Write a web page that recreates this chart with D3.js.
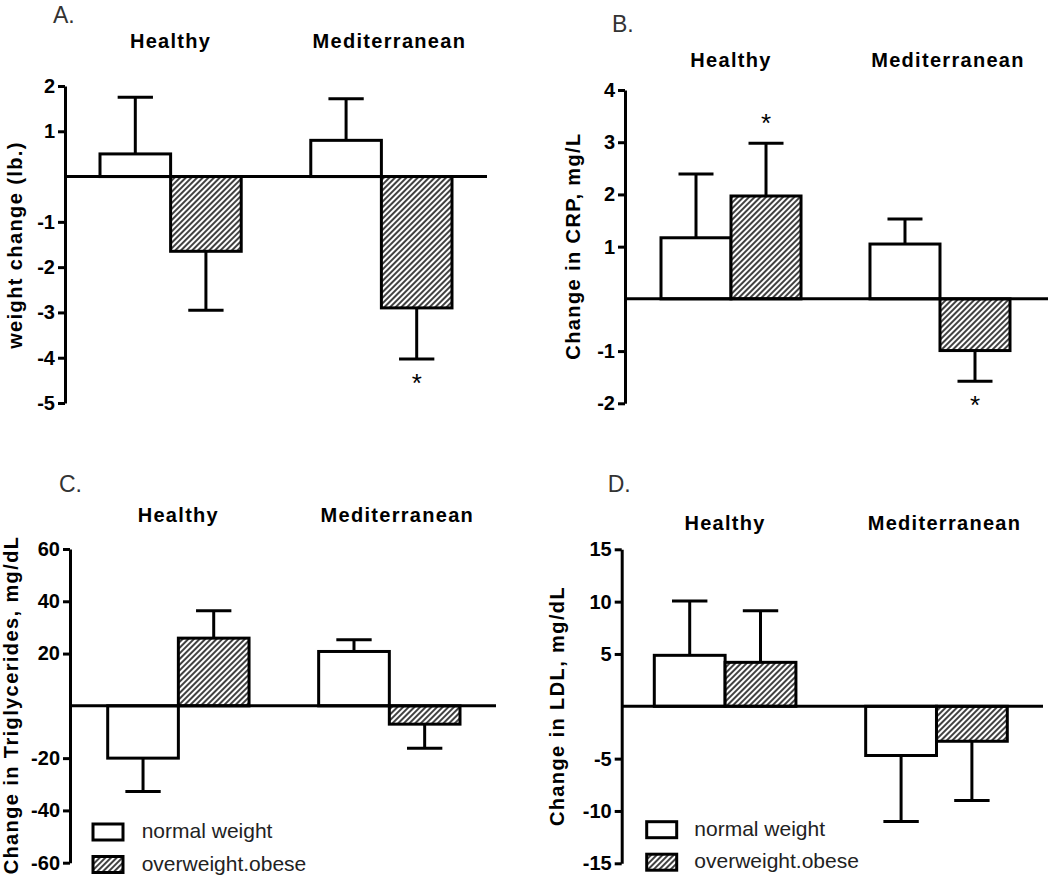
<!DOCTYPE html>
<html>
<head>
<meta charset="utf-8">
<script src="https://cdn.jsdelivr.net/npm/d3@7"></script>
<style>
  html, body { margin: 0; padding: 0; background: #fff; }
  svg { display: block; font-family: "Liberation Sans", Arial, sans-serif; }
</style>
</head>
<body>
<svg id="chart" width="1050" height="877"></svg>
<script>
// ---------- data ----------
const groups = ["Healthy", "Mediterranean"];
const seriesNames = ["normal weight", "overweight.obese"];

// Panel A: weight change (lb.)
const weightNormal = [0.5, 0.8];
const weightNormalErr = [1.25, 0.92];
const weightOver = [-1.65, -2.9];
const weightOverErr = [1.3, 1.13];
const weightTicks = [2, 1, -1, -2, -3, -4, -5];

// Panel B: Change in CRP, mg/L
const crpNormal = [1.17, 1.05];
const crpNormalErr = [1.22, 0.48];
const crpOver = [1.97, -0.99];
const crpOverErr = [1.01, 0.59];
const crpTicks = [4, 3, 2, 1, -1, -2];

// Panel C: Change in Triglycerides, mg/dL
const tgNormal = [-20, 20.8];
const tgNormalErr = [12.8, 4.5];
const tgOver = [25.9, -7.0];
const tgOverErr = [10.5, 9.2];
const tgTicks = [60, 40, 20, -20, -40, -60];

// Panel D: Change in LDL, mg/dL
const ldlNormal = [4.87, -4.7];
const ldlNormalErr = [5.2, 6.3];
const ldlOver = [4.2, -3.34];
const ldlOverErr = [4.94, 5.66];
const ldlTicks = [15, 10, 5, -5, -10, -15];

// significance markers: [group, series]
const sigA = [["Mediterranean", "overweight.obese"]];
const sigB = [["Healthy", "overweight.obese"], ["Mediterranean", "overweight.obese"]];

// ---------- layout ----------
const svg = d3.select("#chart");
const defs = svg.append("defs");
const pat = defs.append("pattern")
  .attr("id", "hatch").attr("patternUnits", "userSpaceOnUse")
  .attr("width", 4).attr("height", 4)
  .attr("patternTransform", "rotate(45)");
pat.append("rect").attr("width", 4).attr("height", 4).attr("fill", "#fff");
pat.append("line").attr("x1", 1).attr("y1", 0).attr("x2", 1).attr("y2", 4)
  .attr("stroke", "#111").attr("stroke-width", 1.6);

const panels = [
  { letter: "A.", label: "weight change (lb.)", normal: weightNormal, normalErr: weightNormalErr,
    over: weightOver, overErr: weightOverErr, ticks: weightTicks, sig: sigA,
    axisX: 65, yTop: 86, yBot: 403, barL: 100, barR: 452, zeroEnd: 487,
    groupY: 48, letterX: 53, letterY: 23, labelX: 22, labelY: 245, legend: null },
  { letter: "B.", label: "Change in CRP, mg/L", normal: crpNormal, normalErr: crpNormalErr,
    over: crpOver, overErr: crpOverErr, ticks: crpTicks, sig: sigB,
    axisX: 625, yTop: 90, yBot: 403.3, barL: 661, barR: 1010, zeroEnd: 1048,
    groupY: 67, letterX: 612, letterY: 32, labelX: 580, labelY: 246, legend: null },
  { letter: "C.", label: "Change in Triglycerides, mg/dL", normal: tgNormal, normalErr: tgNormalErr,
    over: tgOver, overErr: tgOverErr, ticks: tgTicks, sig: [],
    axisX: 70, yTop: 549, yBot: 862.7, barL: 107.7, barR: 460, zeroEnd: 496,
    groupY: 521.7, letterX: 59, letterY: 491.7, labelX: 18, labelY: 705,
    legend: { x: 93, y: 824, textX: 141.7 } },
  { letter: "D.", label: "Change in LDL, mg/dL", normal: ldlNormal, normalErr: ldlNormalErr,
    over: ldlOver, overErr: ldlOverErr, ticks: ldlTicks, sig: [],
    axisX: 621.7, yTop: 549.3, yBot: 863.3, barL: 654.3, barR: 1007.3, zeroEnd: 1043,
    groupY: 530, letterX: 607.7, letterY: 491.7, labelX: 564, labelY: 706,
    legend: { x: 646.7, y: 821.7, textX: 694.3 } }
];

const groupLabelOffset = [0, 8];

panels.forEach(p => {
  const g = svg.append("g");
  const ext = d3.extent(p.ticks);
  const y = d3.scaleLinear().domain([ext[0], ext[1]]).range([p.yBot, p.yTop]);
  const x0 = d3.scaleBand().domain(groups).range([p.barL, p.barR]).paddingInner(0.33).paddingOuter(0);
  const x1 = d3.scaleBand().domain(seriesNames).range([0, x0.bandwidth()]).padding(0);

  const rows = [];
  groups.forEach((grp, i) => {
    rows.push({ group: grp, series: seriesNames[0], v: p.normal[i], e: p.normalErr[i] });
    rows.push({ group: grp, series: seriesNames[1], v: p.over[i], e: p.overErr[i] });
  });

  // bars
  g.selectAll("rect.bar").data(rows).enter().append("rect")
    .attr("class", "bar")
    .attr("x", d => x0(d.group) + x1(d.series))
    .attr("width", x1.bandwidth())
    .attr("y", d => y(Math.max(0, d.v)))
    .attr("height", d => Math.abs(y(d.v) - y(0)))
    .attr("fill", d => d.series === seriesNames[0] ? "#fff" : "url(#hatch)")
    .attr("stroke", "#000").attr("stroke-width", 3);

  // error bars (one-sided, away from zero)
  rows.forEach(d => {
    const cx = x0(d.group) + x1(d.series) + x1.bandwidth() / 2;
    const end = d.v >= 0 ? d.v + d.e : d.v - d.e;
    const capW = x1.bandwidth() / 2;
    g.append("line").attr("x1", cx).attr("x2", cx).attr("y1", y(d.v)).attr("y2", y(end))
      .attr("stroke", "#000").attr("stroke-width", 3);
    g.append("line").attr("x1", cx - capW / 2).attr("x2", cx + capW / 2)
      .attr("y1", y(end)).attr("y2", y(end))
      .attr("stroke", "#000").attr("stroke-width", 3);
  });

  // zero line
  g.append("line").attr("x1", p.axisX).attr("x2", p.zeroEnd).attr("y1", y(0)).attr("y2", y(0))
    .attr("stroke", "#000").attr("stroke-width", 3);

  // y axis
  const ax = g.append("g").attr("transform", `translate(${p.axisX},0)`)
    .call(d3.axisLeft(y).tickValues(p.ticks).tickSize(7).tickSizeOuter(0).tickPadding(3)
      .tickFormat(d => String(d)));
  ax.select(".domain").attr("stroke", "#000").attr("stroke-width", 3);
  ax.selectAll(".tick line").attr("stroke", "#000").attr("stroke-width", 3);
  ax.selectAll(".tick text").attr("fill", "#000").style("font-size", "20px").style("font-weight", "bold")
    .style("font-family", "'Liberation Sans', Arial, sans-serif");

  // significance asterisks
  p.sig.forEach(([grp, ser]) => {
    const d = rows.find(r => r.group === grp && r.series === ser);
    const cx = x0(grp) + x1(ser) + x1.bandwidth() / 2;
    const end = d.v >= 0 ? d.v + d.e : d.v - d.e;
    const cy = d.v >= 0 ? y(end) - 24 : y(end) + 20;
    g.append("text").attr("x", cx).attr("y", cy + 13).attr("text-anchor", "middle")
      .style("font-size", "26px").attr("fill", "#000").text("*");
  });

  // group labels
  groups.forEach((grp, i) => {
    g.append("text").attr("x", x0(grp) + x0.bandwidth() / 2 + groupLabelOffset[i]).attr("y", p.groupY)
      .attr("text-anchor", "middle").style("font-size", "20px").style("font-weight", "bold")
      .style("letter-spacing", "1.3px").attr("fill", "#000").text(grp);
  });

  // panel letter
  g.append("text").attr("x", p.letterX).attr("y", p.letterY)
    .style("font-size", "23px").attr("fill", "#333").text(p.letter);

  // y label
  g.append("text").attr("transform", `translate(${p.labelX},${p.labelY}) rotate(-90)`)
    .attr("text-anchor", "middle").style("font-size", "20px").style("font-weight", "bold")
    .style("letter-spacing", "1.4px").attr("fill", "#000").text(p.label);

  // legend
  if (p.legend) {
    const lg = g.append("g");
    seriesNames.forEach((s, i) => {
      const yy = p.legend.y + i * 32.5;
      lg.append("rect").attr("x", p.legend.x).attr("y", yy).attr("width", 30).attr("height", 16)
        .attr("fill", i === 0 ? "#fff" : "url(#hatch)").attr("stroke", "#000").attr("stroke-width", 3);
      lg.append("text").attr("x", p.legend.textX).attr("y", yy + 14)
        .style("font-size", "21px").attr("fill", "#222").text(s);
    });
  }
});
</script>
</body>
</html>
